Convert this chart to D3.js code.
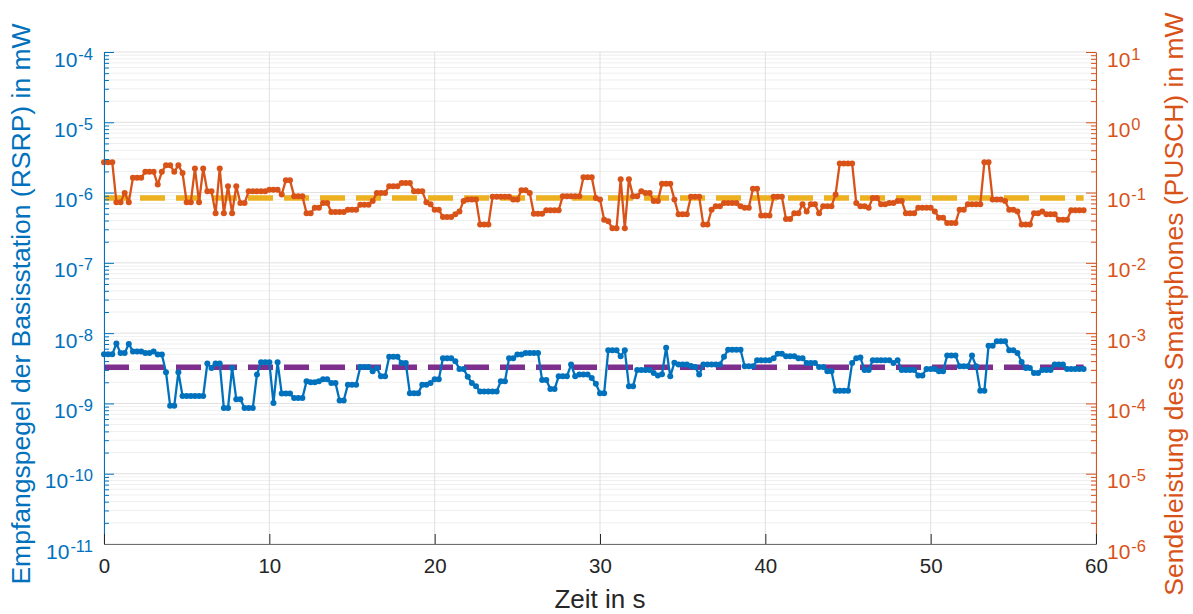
<!DOCTYPE html>
<html>
<head>
<meta charset="utf-8">
<script src="https://cdn.jsdelivr.net/npm/d3@7"></script>
<style>
  body { margin: 0; background: #fff; }
  svg { font-family: "Liberation Sans", Arial, Helvetica, sans-serif; }
</style>
</head>
<body>
<svg id="chart" width="1193" height="614"></svg>
<script>
// Messzeitpunkte in s
const zeit = [
  0,0.25,0.5,0.75,1,1.25,1.5,1.75,2,2.25,2.5,2.75,3,3.25,3.5,3.75,4,4.25,4.5,4.75,
  5,5.25,5.5,5.75,6,6.25,6.5,6.75,7,7.25,7.5,7.75,8,8.25,8.5,8.75,9,9.25,9.5,9.75,
  10,10.25,10.5,10.75,11,11.25,11.5,11.75,12,12.25,12.5,12.75,13,13.25,13.5,13.75,14,14.25,14.5,14.75,
  15,15.25,15.5,15.75,16,16.25,16.5,16.75,17,17.25,17.5,17.75,18,18.25,18.5,18.75,19,19.25,19.5,19.75,
  20,20.25,20.5,20.75,21,21.25,21.5,21.75,22,22.25,22.5,22.75,23,23.25,23.5,23.75,24,24.25,24.5,24.75,
  25,25.25,25.5,25.75,26,26.25,26.5,26.75,27,27.25,27.5,27.75,28,28.25,28.5,28.75,29,29.25,29.5,29.75,
  30,30.25,30.5,30.75,31,31.25,31.5,31.75,32,32.25,32.5,32.75,33,33.25,33.5,33.75,34,34.25,34.5,34.75,
  35,35.25,35.5,35.75,36,36.25,36.5,36.75,37,37.25,37.5,37.75,38,38.25,38.5,38.75,39,39.25,39.5,39.75,
  40,40.25,40.5,40.75,41,41.25,41.5,41.75,42,42.25,42.5,42.75,43,43.25,43.5,43.75,44,44.25,44.5,44.75,
  45,45.25,45.5,45.75,46,46.25,46.5,46.75,47,47.25,47.5,47.75,48,48.25,48.5,48.75,49,49.25,49.5,49.75,
  50,50.25,50.5,50.75,51,51.25,51.5,51.75,52,52.25,52.5,52.75,53,53.25,53.5,53.75,54,54.25,54.5,54.75,
  55,55.25,55.5,55.75,56,56.25,56.5,56.75,57,57.25,57.5,57.75,58,58.25,58.5,58.75,59,59.25
];

// Sendeleistung PUSCH in mW (rechte Achse)
const pusch = [
  0.27,0.27,0.27,0.073,0.073,0.099,0.073,0.162,0.162,0.162,0.197,0.197,0.197,0.13,0.197,0.245,0.245,0.197,0.245,0.19,
  0.073,0.073,0.22,0.073,0.22,0.104,0.104,0.051,0.22,0.051,0.123,0.051,0.123,0.071,0.071,0.104,0.104,0.104,0.104,0.104,
  0.11,0.11,0.11,0.094,0.15,0.15,0.089,0.089,0.089,0.051,0.051,0.061,0.061,0.071,0.071,0.053,0.053,0.053,0.053,0.057,
  0.057,0.057,0.067,0.067,0.067,0.076,0.099,0.099,0.099,0.123,0.123,0.123,0.137,0.137,0.137,0.104,0.104,0.104,0.073,0.068,
  0.057,0.057,0.045,0.045,0.045,0.049,0.054,0.076,0.08,0.08,0.08,0.035,0.035,0.035,0.087,0.087,0.087,0.087,0.087,0.08,
  0.08,0.108,0.108,0.099,0.05,0.05,0.05,0.056,0.056,0.056,0.056,0.089,0.089,0.089,0.089,0.089,0.165,0.165,0.165,0.084,
  0.08,0.041,0.039,0.031,0.031,0.155,0.031,0.155,0.089,0.089,0.104,0.099,0.099,0.076,0.076,0.133,0.133,0.133,0.08,0.049,
  0.049,0.049,0.087,0.087,0.087,0.035,0.035,0.057,0.064,0.064,0.071,0.071,0.071,0.071,0.064,0.061,0.061,0.113,0.113,0.047,
  0.047,0.047,0.087,0.087,0.087,0.042,0.042,0.051,0.051,0.068,0.054,0.068,0.068,0.051,0.064,0.064,0.064,0.094,0.26,0.26,
  0.26,0.26,0.071,0.064,0.064,0.061,0.084,0.084,0.068,0.068,0.071,0.071,0.076,0.076,0.051,0.051,0.051,0.061,0.061,0.061,
  0.061,0.054,0.044,0.044,0.037,0.037,0.037,0.057,0.057,0.068,0.068,0.068,0.068,0.27,0.27,0.08,0.08,0.08,0.076,0.057,
  0.057,0.054,0.035,0.035,0.035,0.051,0.051,0.054,0.049,0.049,0.049,0.041,0.041,0.041,0.056,0.056,0.056,0.056
];

// Empfangspegel RSRP in 1e-9 mW (linke Achse)
const rsrpNano = [
  5.0,5.0,5.0,7.1,5.2,5.2,7.0,5.5,5.5,5.5,5.2,5.2,5.5,4.95,4.95,2.78,0.93,0.93,2.78,1.28,
  1.28,1.28,1.28,1.28,1.28,3.7,3.2,3.7,3.7,0.86,0.86,3.2,1.15,1.15,0.86,0.86,0.86,2.57,3.85,3.85,
  3.85,1.01,3.85,1.38,1.38,1.38,1.19,1.19,1.19,2.06,2.0,2.0,2.06,2.2,2.2,1.95,1.95,1.1,1.1,1.85,
  1.85,1.85,3.3,3.3,3.3,2.87,3.2,2.43,2.43,4.6,4.6,4.6,3.77,3.77,1.4,1.4,1.4,1.85,1.85,1.95,
  2.2,2.2,4.4,4.4,4.4,3.97,3.1,3.1,2.4,1.95,1.75,1.48,1.48,1.48,1.48,1.48,2.06,2.06,4.4,4.4,
  4.95,4.95,5.2,5.2,5.2,5.2,2.15,2.15,1.6,1.6,2.43,2.43,2.43,3.57,2.43,2.57,2.57,2.57,2.3,1.9,
  1.4,1.4,5.7,5.7,5.7,4.7,5.7,1.75,1.75,3.0,3.0,3.0,3.0,2.7,2.5,2.6,6.2,2.43,3.8,3.57,
  3.57,3.57,3.4,3.3,2.57,3.57,3.57,3.57,3.57,3.57,4.6,5.8,5.8,5.8,5.8,3.37,3.37,3.37,4.1,4.1,
  4.1,4.1,4.4,5.1,5.1,4.7,4.7,4.7,4.4,4.4,3.77,3.77,3.77,3.3,3.3,2.87,2.87,1.52,1.52,1.52,
  1.52,3.77,4.4,4.5,3.0,3.0,4.1,4.1,4.1,4.1,4.1,3.77,4.1,3.0,3.0,3.0,3.0,2.5,2.5,3.1,
  3.1,3.1,2.87,2.87,4.8,4.8,4.8,3.37,3.37,3.37,4.8,3.37,1.52,1.52,6.6,6.6,7.65,7.65,7.65,5.7,
  5.7,5.2,3.9,3.2,3.2,2.72,2.72,3.0,3.0,3.0,3.57,3.57,3.57,3.1,3.1,3.1,3.1,3.1
];

// Mittelwerte (gestrichelt)
const puschMittel = 0.084;
const rsrpMittel = 3.27e-9;

const xTicks = [0, 10, 20, 30, 40, 50, 60];
const rsrpExp = [-11, -10, -9, -8, -7, -6, -5, -4];
const puschExp = [-6, -5, -4, -3, -2, -1, 0, 1];

const blau = "#0072BD", orange = "#D95319", gelb = "#EDB120", lila = "#7E2F8E";
const plot = { left: 104, right: 1096, top: 52, bottom: 544 };

const svg = d3.select("#chart");

const x = d3.scaleLinear().domain([0, 60]).range([plot.left, plot.right]);
const yL = d3.scaleLog().domain([1e-11, 1e-4]).range([plot.bottom, plot.top]);
const yR = d3.scaleLog().domain([1e-6, 1e1]).range([plot.bottom, plot.top]);

const majorL = rsrpExp.map(e => Math.pow(10, e));
const majorR = puschExp.map(e => Math.pow(10, e));
const isMajor = v => Math.abs(Math.log10(v) - Math.round(Math.log10(v))) < 1e-6;
const minorL = yL.ticks().filter(v => !isMajor(v));
const minorR = yR.ticks().filter(v => !isMajor(v));

// Gitter
const grid = svg.append("g");
grid.selectAll(".minor").data(minorL).enter().append("line")
    .attr("x1", plot.left).attr("x2", plot.right)
    .attr("y1", d => yL(d)).attr("y2", d => yL(d))
    .attr("stroke", "#efefef").attr("stroke-width", 1);
grid.selectAll(".major").data(majorL).enter().append("line")
    .attr("x1", plot.left).attr("x2", plot.right)
    .attr("y1", d => yL(d)).attr("y2", d => yL(d))
    .attr("stroke", "#e0e0e0").attr("stroke-width", 1);
grid.selectAll(".vert").data(xTicks).enter().append("line")
    .attr("x1", d => x(d)).attr("x2", d => x(d))
    .attr("y1", plot.top).attr("y2", plot.bottom)
    .attr("stroke", "#e0e0e0").attr("stroke-width", 1);

// Mittelwert-Linien
const tEnd = zeit[zeit.length - 1];
svg.append("line")
    .attr("x1", x(zeit[0])).attr("x2", x(tEnd))
    .attr("y1", yR(puschMittel)).attr("y2", yR(puschMittel))
    .attr("stroke", gelb).attr("stroke-width", 5.5).attr("stroke-dasharray", "25,11");
svg.append("line")
    .attr("x1", x(zeit[0])).attr("x2", x(tEnd))
    .attr("y1", yL(rsrpMittel)).attr("y2", yL(rsrpMittel))
    .attr("stroke", lila).attr("stroke-width", 5.5).attr("stroke-dasharray", "25,11");

// Messreihen
function drawSeries(values, yScale, color) {
    const pts = values.map((v, i) => [zeit[i], v]);
    const line = d3.line().x(d => x(d[0])).y(d => yScale(d[1]));
    svg.append("path")
        .datum(pts)
        .attr("d", line)
        .attr("fill", "none")
        .attr("stroke", color)
        .attr("stroke-width", 2.3)
        .attr("stroke-linejoin", "round");
    svg.append("g").selectAll("circle")
        .data(pts)
        .enter().append("circle")
        .attr("cx", d => x(d[0]))
        .attr("cy", d => yScale(d[1]))
        .attr("r", 3)
        .attr("fill", color);
}
drawSeries(pusch, yR, orange);
drawSeries(rsrpNano.map(v => v * 1e-9), yL, blau);

// Achsen
function supLabels(sel, anchor) {
    sel.selectAll(".tick text").each(function(d) {
        const t = d3.select(this).text(null).attr("dy", null).attr("text-anchor", anchor);
        t.append("tspan").attr("dy", 14).attr("font-size", 21).text("10");
        t.append("tspan").attr("dy", -7).attr("dx", 1).attr("font-size", 16.5).text(Math.round(Math.log10(d)));
    });
}

const axL = svg.append("g")
    .attr("transform", `translate(${plot.left},0)`)
    .attr("color", blau)
    .call(d3.axisLeft(yL).tickValues(majorL).tickSize(-10).tickSizeOuter(0).tickPadding(11).tickFormat(() => ""));
axL.attr("font-family", null);
supLabels(axL, "end");
svg.append("g")
    .attr("transform", `translate(${plot.left},0)`)
    .attr("color", blau)
    .call(d3.axisLeft(yL).tickValues(minorL).tickSize(-5).tickFormat(() => ""))
    .select(".domain").remove();

const axR = svg.append("g")
    .attr("transform", `translate(${plot.right},0)`)
    .attr("color", orange)
    .call(d3.axisRight(yR).tickValues(majorR).tickSize(-10).tickSizeOuter(0).tickPadding(11).tickFormat(() => ""));
axR.attr("font-family", null);
supLabels(axR, "start");
svg.append("g")
    .attr("transform", `translate(${plot.right},0)`)
    .attr("color", orange)
    .call(d3.axisRight(yR).tickValues(minorR).tickSize(-5).tickFormat(() => ""))
    .select(".domain").remove();

const axX = svg.append("g")
    .attr("transform", `translate(0,${plot.bottom})`)
    .attr("color", "#262626")
    .call(d3.axisBottom(x).tickValues(xTicks).tickSize(-10).tickSizeOuter(0).tickPadding(14));
axX.attr("font-family", null).attr("font-size", 20.5);
axX.select(".domain").attr("stroke", "#6e6e6e");

// Achsentitel
svg.append("text")
    .attr("x", (plot.left + plot.right) / 2)
    .attr("y", 608)
    .attr("text-anchor", "middle")
    .attr("font-size", 26)
    .attr("fill", "#262626")
    .text("Zeit in s");

svg.append("text")
    .attr("transform", `translate(21,304) rotate(-90)`)
    .attr("text-anchor", "middle")
    .attr("dy", "0.35em")
    .attr("font-size", 26.5)
    .attr("fill", blau)
    .text("Empfangspegel der Basisstation (RSRP) in mW");

svg.append("text")
    .attr("transform", `translate(1174,304) rotate(-90)`)
    .attr("text-anchor", "middle")
    .attr("dy", "0.35em")
    .attr("font-size", 26.5)
    .attr("fill", orange)
    .text("Sendeleistung des Smartphones (PUSCH) in mW");
</script>
</body>
</html>
